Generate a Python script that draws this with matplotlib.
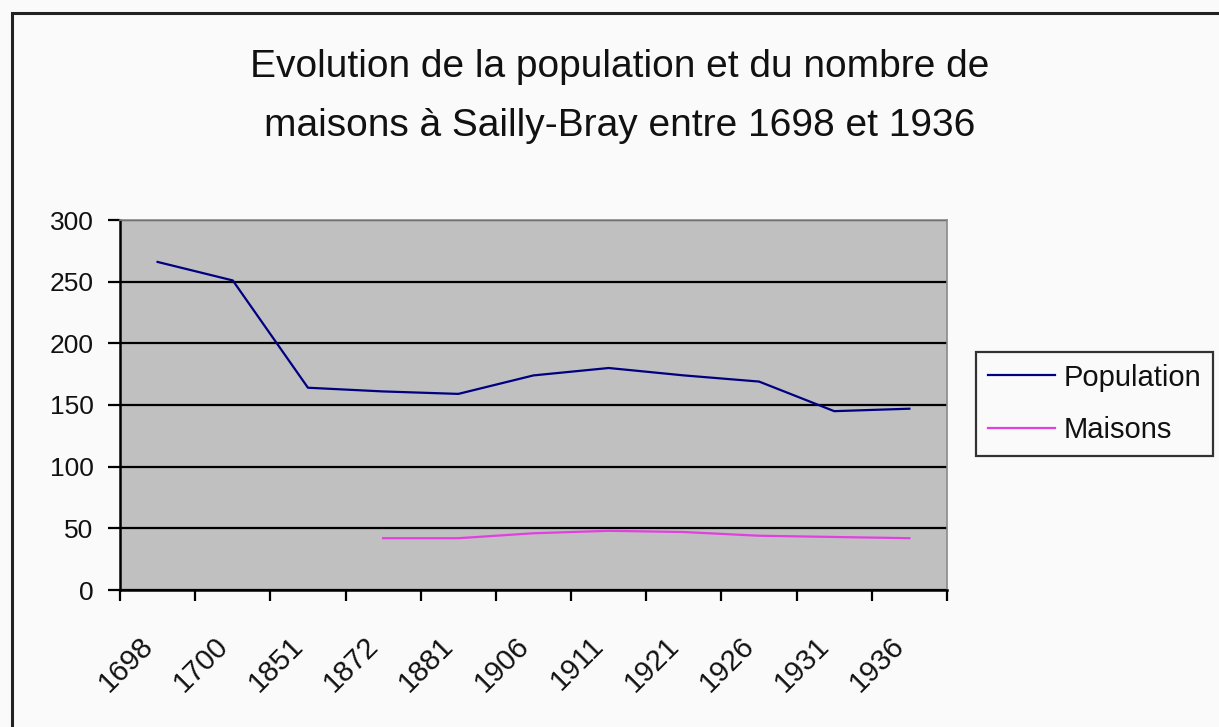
import numpy as np
import matplotlib
matplotlib.use("Agg")
import matplotlib.pyplot as plt
from matplotlib.patches import Rectangle
from matplotlib.transforms import ScaledTranslation

# === DATA ===
years = ["1698", "1700", "1851", "1872", "1881", "1906", "1911", "1921", "1926", "1931", "1936"]
population = [266, 251, 164, 161, 159, 174, 180, 174, 169, 145, 147]
maisons = [np.nan, np.nan, np.nan, 42, 42, 46, 48, 47, 44, 43, 42]
y_ticks = [0, 50, 100, 150, 200, 250, 300]

# === STYLE ===
FONT = "Liberation Sans"
TEXT_COLOR = "#111111"
PLOT_BG = "#c0c0c0"
POP_COLOR = "#000080"
MAIS_COLOR = "#e040e0"

plt.rcParams["font.family"] = FONT

fig = plt.figure(figsize=(12.19, 7.27), dpi=100)
fig.patch.set_facecolor("#fafafa")

# outer chart frame (right and bottom edges fall outside the picture)
fig.add_artist(Rectangle((12 / 1219, -0.05), 1.1, 1.05 - 13 / 727,
                         transform=fig.transFigure, fill=False,
                         edgecolor="#222222", linewidth=2.2, clip_on=False))

ax = fig.add_axes([120 / 1219, (727 - 590) / 727, (947 - 120) / 1219, (590 - 220) / 727])
ax.set_facecolor(PLOT_BG)

x = np.arange(len(years))
ax.plot(x, population, color=POP_COLOR, linewidth=1.6, label="Population", zorder=3)
ax.plot(x, maisons, color=MAIS_COLOR, linewidth=1.6, label="Maisons", zorder=3)

ax.set_xlim(-0.5, len(years) - 0.5)
ax.set_ylim(0, 300)

# gridlines
ax.set_yticks(y_ticks)
ax.yaxis.grid(True, color="black", linewidth=1.6)
ax.set_axisbelow(True)
ax.set_yticklabels([str(v) for v in y_ticks], fontsize=19, color=TEXT_COLOR)
ax.tick_params(axis="y", direction="out", length=9, width=1.6, pad=10)

# category axis: ticks between categories, labels in the middle
ax.set_xticks(np.arange(len(years) + 1) - 0.5)
ax.set_xticklabels([])
ax.tick_params(axis="x", direction="out", length=8, width=1.6)
ax.set_xticks(x, minor=True)
ax.set_xticklabels(years, minor=True, rotation=45, ha="right",
                   rotation_mode="anchor", fontsize=21, color=TEXT_COLOR)
ax.tick_params(axis="x", which="minor", length=0, pad=30)
shift = ScaledTranslation(-19 / 100, 0, fig.dpi_scale_trans)
for lbl in ax.get_xticklabels(minor=True):
    lbl.set_transform(lbl.get_transform() + shift)

for side in ["top", "right"]:
    ax.spines[side].set_color("#8a8a8a")
    ax.spines[side].set_linewidth(1.2)
for side in ["left", "bottom"]:
    ax.spines[side].set_color("black")
    ax.spines[side].set_linewidth(1.8)

# === TITLE ===
fig.text(0.508, 1 - 67 / 727, "Evolution de la population et du nombre de",
         ha="center", va="center", fontsize=28, color=TEXT_COLOR)
fig.text(0.508, 1 - 126 / 727, "maisons à Sailly-Bray entre 1698 et 1936",
         ha="center", va="center", fontsize=28, color=TEXT_COLOR)

# === LEGEND ===
leg = fig.legend(loc="upper left", bbox_to_anchor=(976 / 1219, 1 - 352 / 727),
                 bbox_transform=fig.transFigure, borderaxespad=0,
                 fontsize=21, frameon=True, fancybox=False,
                 handlelength=2.3, handletextpad=0.3, labelspacing=0.85,
                 borderpad=0.4)
leg.get_frame().set_edgecolor("black")
leg.get_frame().set_linewidth(1.6)
leg.get_frame().set_facecolor("#fafafa")
for t in leg.get_texts():
    t.set_color(TEXT_COLOR)

fig.savefig("out.png", dpi=100, facecolor=fig.get_facecolor())
